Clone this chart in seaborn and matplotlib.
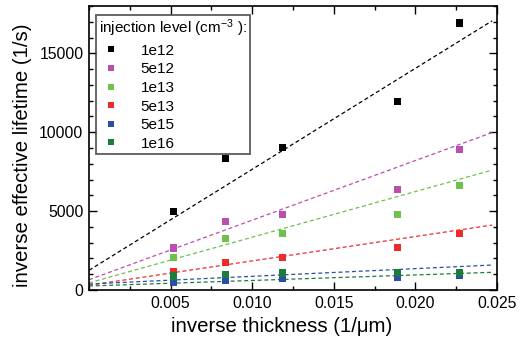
import numpy as np
import pandas as pd
import matplotlib
matplotlib.use("Agg")
import matplotlib.pyplot as plt
from matplotlib.ticker import MultipleLocator
import seaborn as sns

# ---- data ----
levels = ["1e12", "5e12", "1e13", "5e13", "5e15", "1e16"]
colors = ["#000000", "#b94fae", "#6cc24a", "#ee2b2b", "#2b4fa6", "#1b7c3c"]
inv_thickness = [0.00517, 0.00837, 0.01187, 0.01889, 0.02273]
inv_lifetime_1e12 = [5000, 8335, 9010, 11960, 16920]
inv_lifetime_5e12 = [2660, 4370, 4810, 6390, 8905]
inv_lifetime_1e13 = [2045, 3250, 3610, 4810, 6625]
inv_lifetime_5e13 = [1200, 1750, 2045, 2720, 3610]
inv_lifetime_5e15 = [506, 612, 760, 823, 907]
inv_lifetime_1e16 = [886, 970, 1076, 1120, 1120]
# linear fit lines (intercept, slope)
fit_intercept = [1250, 650, 450, 300, 380, 253]
fit_slope = [640000, 377700, 289500, 154500, 48700, 35100]
fit_x_range = [0.0, 0.0247]

series = [inv_lifetime_1e12, inv_lifetime_5e12, inv_lifetime_1e13,
          inv_lifetime_5e13, inv_lifetime_5e15, inv_lifetime_1e16]

pts = pd.DataFrame({
    "x": np.tile(inv_thickness, len(levels)),
    "y": np.concatenate(series),
    "level": np.repeat(levels, len(inv_thickness)),
})
fit_rows = []
for lv, b, m in zip(levels, fit_intercept, fit_slope):
    for xv in fit_x_range:
        fit_rows.append({"x": xv, "y": b + m * xv, "level": lv})
fits = pd.DataFrame(fit_rows)

sns.set_theme(style="ticks")
plt.rcParams["font.family"] = ["Liberation Sans", "DejaVu Sans"]
plt.rcParams["mathtext.fontset"] = "custom"
plt.rcParams["mathtext.rm"] = "Liberation Sans"
plt.rcParams["mathtext.it"] = "Liberation Sans"
plt.rcParams["text.color"] = "black"
plt.rcParams["axes.labelcolor"] = "black"
plt.rcParams["xtick.color"] = "black"
plt.rcParams["ytick.color"] = "black"

fig = plt.figure(figsize=(5.25, 3.4), dpi=100)
ax = fig.add_axes([89 / 525, 1 - 290 / 340, (497 - 89) / 525, (290 - 6) / 340])

palette = dict(zip(levels, colors))
sns.lineplot(data=fits, x="x", y="y", hue="level", palette=palette,
             hue_order=levels, ax=ax, legend=False, linewidth=0.9,
             dashes=False)
for line in ax.get_lines():
    line.set_dashes((3.2, 2.2))
sns.scatterplot(data=pts, x="x", y="y", hue="level", palette=palette,
                hue_order=levels, marker="s", s=26, linewidth=0,
                ax=ax, zorder=3)

ax.set_xlim(0, 0.025)
ax.set_ylim(0, 18000)
ax.xaxis.set_minor_locator(MultipleLocator(0.0025))
ax.yaxis.set_minor_locator(MultipleLocator(1000))
ax.set_xticks([0.005, 0.010, 0.015, 0.020, 0.025])
ax.set_xticklabels(["0.005", "0.010", "0.015", "0.020", "0.025"])
ax.set_yticks([0, 5000, 10000, 15000])
ax.set_yticklabels(["0", "5000", "10000", "15000"])
ax.tick_params(which="both", direction="in", top=True, right=True,
               labelsize=11.3, colors="black", width=1.0)
ax.tick_params(which="major", length=6, pad=4)
ax.tick_params(which="minor", length=3)
for sp in ax.spines.values():
    sp.set_linewidth(1.2)
    sp.set_color("black")
ax.set_xlabel("inverse thickness (1/\u03bcm)", fontsize=14.7)
ax.set_ylabel("inverse effective lifetime (1/s)", fontsize=14.7)
ax.xaxis.set_label_coords(0.472, -0.095)
ax.yaxis.set_label_coords(-0.14, 0.475)

handles, labels = ax.get_legend_handles_labels()
leg = ax.legend(handles=handles, labels=labels,
                title="injection level (cm$^{-3}$ ):", loc="upper left",
                bbox_to_anchor=(0.018, 0.97), fontsize=11, title_fontsize=11,
                frameon=True, fancybox=False, edgecolor="#333333",
                markerscale=0.75, handletextpad=1.2, labelspacing=0.3,
                borderpad=0.2, handlelength=1.5, borderaxespad=0)
leg.get_frame().set_linewidth(1.3)
leg._legend_box.align = "left"

fig.savefig("out.png", dpi=100)
